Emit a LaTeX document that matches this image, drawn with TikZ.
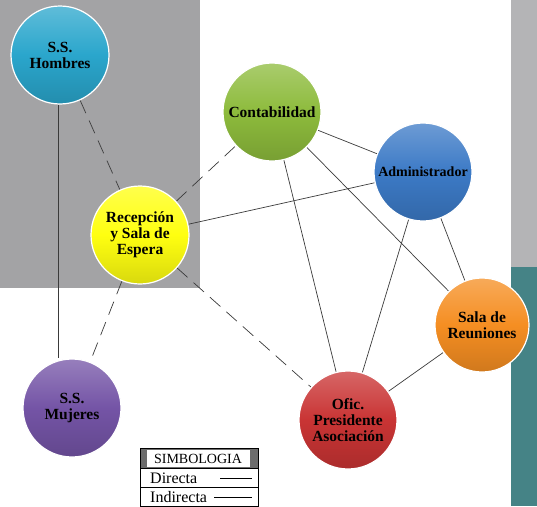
\documentclass[tikz,border=0pt]{standalone}
\usepackage{fontspec}
\setmainfont{Liberation Serif}
\usepackage{tikz}
\usetikzlibrary{positioning,calc}
\pgfdeclarelayer{fondo}
\pgfdeclarelayer{lineas}
\pgfsetlayers{fondo,lineas,main}
\definecolor{hombblue}{HTML}{2AA6CC}
\definecolor{contgreen}{HTML}{8DBB3C}
\definecolor{admblue}{HTML}{3C7AC6}
\definecolor{recyellow}{HTML}{FFFF10}
\definecolor{salaorange}{HTML}{F58E22}
\definecolor{mujpurple}{HTML}{7454A6}
\definecolor{oficred}{HTML}{C93434}
\definecolor{bggray}{HTML}{A3A3A5}
\definecolor{sidegray}{HTML}{B4B4B6}
\definecolor{sideteal}{HTML}{458386}
\definecolor{linegray}{HTML}{3A3A3A}
\tikzset{
  % espacios
  esp/.style={circle,draw=white,line width=1.2pt,inner sep=0pt,
              minimum size=98pt,align=center,text=black,
              font=\fontsize{15.5}{16}\selectfont\bfseries},
  espc/.style={esp,top color=#1!75!white,bottom color=#1!85!black,
               middle color=#1},
  % relaciones
  dir/.style={draw=linegray,line width=0.7pt},
  ind/.style={draw=linegray,line width=0.7pt,dash pattern=on 14pt off 8pt},
  % simbologia
  leg/.style={font=\fontsize{16}{17}\selectfont,inner sep=1pt,anchor=west},
}
\begin{document}
\begin{tikzpicture}[x=1pt,y=-1pt]
\useasboundingbox (0,0) rectangle (537,506);
  \begin{pgfonlayer}{fondo}
  \fill[bggray] (0,0) rectangle (200,288);
  \fill[sidegray] (511,0) rectangle (537,267);
  \fill[sideteal] (511,267) rectangle (537,506);
  \end{pgfonlayer}
  \node[espc=hombblue] (homb) at (60,55) {S.S.\\Hombres};
  \node[espc=contgreen] (cont) at (272,112) {Contabilidad};
  \node[espc=admblue,font=\fontsize{14}{15}\selectfont\bfseries] (adm) at (423,172) {Administrador};
  \node[espc=recyellow] (rec) at (140,235) {Recepción\\y Sala de\\Espera};
  \node[espc=salaorange,minimum size=94pt] (sala) at (482,325) {Sala de\\Reuniones};
  \node[espc=mujpurple] (muj) at (72,408) {S.S.\\Mujeres};
  \node[espc=oficred] (ofic) at (348,420) {Ofic.\\Presidente\\Asociación};
  \begin{pgfonlayer}{lineas}
  \draw[dir] (homb.south) ++(-2,0) coordinate (hs) -- (hs |- muj.north);
  \draw[ind] (homb) -- (rec);
  \draw[ind] (rec) -- (cont);
  \draw[dir] (rec) -- (adm);
  \draw[ind] (rec) -- (muj);
  \draw[ind] (rec) -- (ofic);
  \draw[dir] (cont) -- (adm);
  \draw[dir] (cont) -- (ofic);
  \draw[dir] (cont) -- (sala);
  \draw[dir] (adm) -- (ofic);
  \draw[dir] (adm) -- (sala);
  \draw[dir] (sala) -- (ofic);
  \end{pgfonlayer}
  % simbologia
  \fill[gray!85!black] (140,448) rectangle (258,468);
  \fill[white] (147,450) rectangle (250,467);
  \draw[line width=0.8pt] (140,448) rectangle (258,506);
  \draw[line width=0.6pt] (140,468) -- (258,468) (140,487) -- (258,487);
  \node[font=\fontsize{14}{15}\selectfont,inner sep=0pt] (simb) at (198,459) {SIMBOLOGIA};
  \node[leg] (ldir) at (149,478) {Directa};
  \node[leg] (lind) at (149,497) {Indirecta};
  \coordinate (d1) at (220,478); \coordinate (d2) at (252,478);
  \coordinate (i1) at (214,497); \coordinate (i2) at (252,497);
  \draw[line width=0.6pt] (d1) -- (d2);
  \draw[line width=0.6pt] (i1) -- (i2);
\end{tikzpicture}
\end{document}
